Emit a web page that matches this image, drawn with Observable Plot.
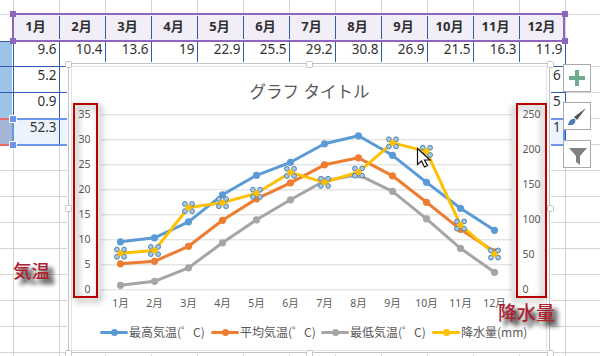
<!DOCTYPE html>
<html><head><meta charset="utf-8">
<script src="https://cdn.jsdelivr.net/npm/d3@7"></script>
<script src="https://cdn.jsdelivr.net/npm/@observablehq/plot@0.6"></script>
<style>
html,body{margin:0;padding:0;background:#fff;overflow:hidden;width:600px;height:356px}
#root{position:relative;width:600px;height:356px;overflow:hidden;font-family:"Noto Sans","Noto Sans CJK JP",sans-serif}
#root>*{position:absolute}
.t{white-space:nowrap;line-height:1}
svg{font-family:"Noto Sans","Noto Sans CJK JP",sans-serif}
</style></head><body><div id="root"></div>
<script>
const months = ["1月","2月","3月","4月","5月","6月","7月","8月","9月","10月","11月","12月"];
const maxTemp = [9.6,10.4,13.6,19,22.9,25.5,29.2,30.8,26.9,21.5,16.3,11.9];
const avgTemp = [5.2,5.7,8.7,13.9,18.2,21.4,25,26.4,22.8,17.5,12.1,7.6];
const minTemp = [0.9,1.7,4.4,9.4,14,18,21.8,23,19.7,14.2,8.3,3.5];
const rain = [52.3,56.1,117.5,124.5,137.8,167.7,153.5,168.2,209.9,197.8,92.5,51.1];
const leftTicks = [0,5,10,15,20,25,30,35];
const rightTicks = [0,50,100,150,200,250];
const seriesNames = ["最高気温(゜C)","平均気温(゜C)","最低気温(゜C)","降水量(mm)"];
const seriesColors = ["#5b9bd5","#ed7d31","#a5a5a5","#ffc000"];
const chartTitle = "グラフ タイトル";

const root = document.getElementById("root");
function box(x,y,w,h,css,html){
  const d=document.createElement("div");
  d.style.cssText=`left:${x}px;top:${y}px;width:${w}px;height:${h}px;box-sizing:border-box;${css||""}`;
  if(html) d.innerHTML=html;
  root.appendChild(d); return d;
}
function label(x,y,txt,css){const d=document.createElement("div");d.className="t";d.textContent=txt;
  d.style.cssText=`left:${x}px;top:${y}px;${css||""}`;root.appendChild(d);return d;}

/* ---------- worksheet behind the chart ---------- */
const colX = d3.range(0,13).map(i=>12.5+46*i);
const GRID="#d4d4d4", BLUE="#2f5cb0", PURPLE="#8e66bd", SEL="#6b95e8";
[14,66,92,118,144,170,196,222,248,274,300,326,352].forEach(y=>box(0,y,600,1,`background:${GRID}`));
colX.forEach(x=>box(x,0,1,356,`background:${GRID}`));
box(0,41,12,77,"background:#9dc3e6");
box(0,118,12,26,"background:#a4b5d6");
box(0,118,12,2,"background:#e46c6c");box(0,144,12,2,"background:#e46c6c");
box(13,119,552,25,"background:#edf3fd");
// table lines
[41,66,92].forEach(y=>box(0,y,565,1,`background:${BLUE}`));
colX.forEach(x=>box(x,41,1,78,`background:${BLUE}`));
colX.forEach(x=>box(x,118,1,26,`background:${BLUE}`));
box(12,118,553,2,`background:${SEL}`);box(12,144,553,2,`background:${SEL}`);
box(12,118,2,27,`background:${SEL}`);box(563,118,2,27,`background:${SEL}`);
// header band
box(12,13,553,29,`background:#f1eef8;border:2.5px solid ${PURPLE}`);
colX.slice(1,12).forEach(x=>box(x,16,1,23,`background:${BLUE}`));
months.forEach((m,i)=>{
  label(colX[i],19.5,m,`width:46px;text-align:center;font-weight:700;font-size:13px;color:#2f2f2f`);
});
[[12.5,14],[12.5,40.5],[564.5,14],[564.5,40.5]].forEach(([x,y])=>box(x-3,y-3,6,6,`background:${PURPLE}`));
[[12.5,118.5],[12.5,144.5]].forEach(([x,y])=>box(x-3,y-3,6,6,`background:${SEL};outline:1px solid #fff`));
// values of row 1 and first cell of the other rows
maxTemp.forEach((v,i)=>label(colX[i],43,String(v),`width:44px;text-align:right;font-size:13.5px;color:#333`));
label(colX[0],69,String(avgTemp[0]),`width:44px;text-align:right;font-size:13.5px;color:#333`);
label(colX[0],95,String(minTemp[0]),`width:44px;text-align:right;font-size:13.5px;color:#333`);
label(colX[0],121,String(rain[0]),`width:44px;text-align:right;font-size:13.5px;color:#333`);
label(553,69,"6",`font-size:13.5px;color:#333`);
label(553,95,"5",`font-size:13.5px;color:#333`);
label(553,121,"1",`font-size:13.5px;color:#333`);

/* ---------- chart frame ---------- */
box(68,63,482,290,"background:#fff;border:1px solid #c4c4c4;outline:1px solid #fff");
box(71,66,476,285,"border:1px solid #e4e4e4;background:#fff");

/* ---------- chart ---------- */
const rows = s => months.map((m,i)=>({m,v:s[i]}));
const tempSeries = [maxTemp,avgTemp,minTemp];
const rainRows = months.map((m,i)=>({m,v:rain[i]*35/250}));
const YL = leftTicks;
const plot = Plot.plot({
  width:600,height:356,
  marginLeft:101,marginRight:88,marginTop:114.3,marginBottom:66.7,
  style:{background:"transparent",position:"absolute",left:0,top:0,overflow:"visible"},
  x:{type:"point",domain:months,padding:.5,label:null},
  y:{domain:[0,35],label:null},
  marks:[
    Plot.ruleY(YL,{stroke:"#d9d9d9",strokeWidth:1,strokeOpacity:1}),
    Plot.axisY(YL,{anchor:"left",tickSize:0,tickPadding:11,fontSize:10.5,color:"#595959",label:null}),
    Plot.axisY(rightTicks.map(d=>d*35/250),{anchor:"right",tickSize:0,tickPadding:10,fontSize:10.5,color:"#595959",label:null,tickFormat:d=>String(Math.round(d*250/35))}),
    Plot.axisX(months,{tickSize:0,tickPadding:10,fontSize:10.5,color:"#595959",label:null}),
    ...[...tempSeries.keys()].flatMap(i=>[
      Plot.line(rows(tempSeries[i]),{x:"m",y:"v",stroke:seriesColors[i],strokeWidth:3,strokeLinecap:"round",strokeLinejoin:"round"}),
      Plot.dot(rows(tempSeries[i]),{x:"m",y:"v",r:3.6,fill:seriesColors[i],stroke:"none"})
    ]),
    Plot.line(rainRows,{x:"m",y:"v",stroke:seriesColors[3],strokeWidth:3,strokeLinecap:"round",strokeLinejoin:"round"}),
    ...[[-3.6,-3.6],[3.6,-3.6],[-3.6,3.6],[3.6,3.6]].map(([dx,dy])=>
      Plot.dot(rainRows,{x:"m",y:"v",dx,dy,r:2.4,fill:"#a9c8e4",stroke:"#4f81ab",strokeWidth:1})),
    Plot.dot(rainRows,{x:"m",y:"v",r:3,fill:seriesColors[3],stroke:"none"}),
    Plot.text([chartTitle],{frameAnchor:"top",dx:2.5,dy:-28.5,fontSize:16.5,fill:"#595959",fontWeight:400})
  ]
});
root.appendChild(plot);

/* ---------- legend ---------- */
const legendX=[100,211,321,432];
seriesNames.forEach((n,i)=>{
  const x=legendX[i];
  box(x,330.5,28,3,`background:${seriesColors[i]};border-radius:2px`);
  box(x+10.5,328.5,7,7,`background:${seriesColors[i]};border-radius:50%`);
  label(x+29,326,n,`font-size:12px;color:#595959;font-family:'Noto Sans CJK JP','Noto Sans'`);
});

/* ---------- chart handles ---------- */
[[68,64],[309,64],[550,64],[68,208],[550,208],[68,353],[309,353],[550,353]].forEach(([x,y])=>
  box(x-3.5,y-3.5,7,7,"background:#fff;border:1px solid #c4c4c4;border-radius:1.5px"));

/* ---------- red annotation boxes ---------- */
const RED="#b80000";
box(73,103,25,195,`border:2.5px solid ${RED};filter:drop-shadow(3px 3px 3px rgba(0,0,0,.5))`);
box(516,103,31,195,`border:2.5px solid ${RED};filter:drop-shadow(-3px 3px 3px rgba(0,0,0,.45))`);
label(13,262,"気温",`font-size:18.500px;color:#ae2230;font-weight:500;text-shadow:5px 5px 4px rgba(0,0,0,.85)`);
label(498,304,"降水量",`font-size:19px;color:#ae2230;font-weight:500;text-shadow:5px 5px 4px rgba(0,0,0,.85)`);

/* ---------- side buttons ---------- */
const btn=(y,inner)=>box(563,y,28,28,"background:#fff;border:1px solid #ababab",`<svg width="26" height="26" viewBox="0 0 26 26" style="display:block">${inner}</svg>`);
btn(64,`<path d="M11 5h4v6h6v4h-6v6h-4v-6H5v-4h6z" fill="#6fa98e"/>`);
btn(102,`<path d="M4 22c1-5 4-7 7-6 1 2 0 5-3 6z" fill="#4a7db5"/><path d="M10 14l12-9-9 12z" fill="#555"/>`);
btn(140,`<path d="M5 7h18l-7 8v9l-4-3v-6z" fill="#808080"/>`);

/* ---------- mouse cursor ---------- */
box(416,147,18,22,"",`<svg width="18" height="22" viewBox="0 0 18 22" style="display:block"><path d="M1.5 1.5v16l4-3.5 3 6 3-1.500-3-5.500h5.500z" fill="#fff" stroke="#111" stroke-width="1.2"/></svg>`);
</script></body></html>
